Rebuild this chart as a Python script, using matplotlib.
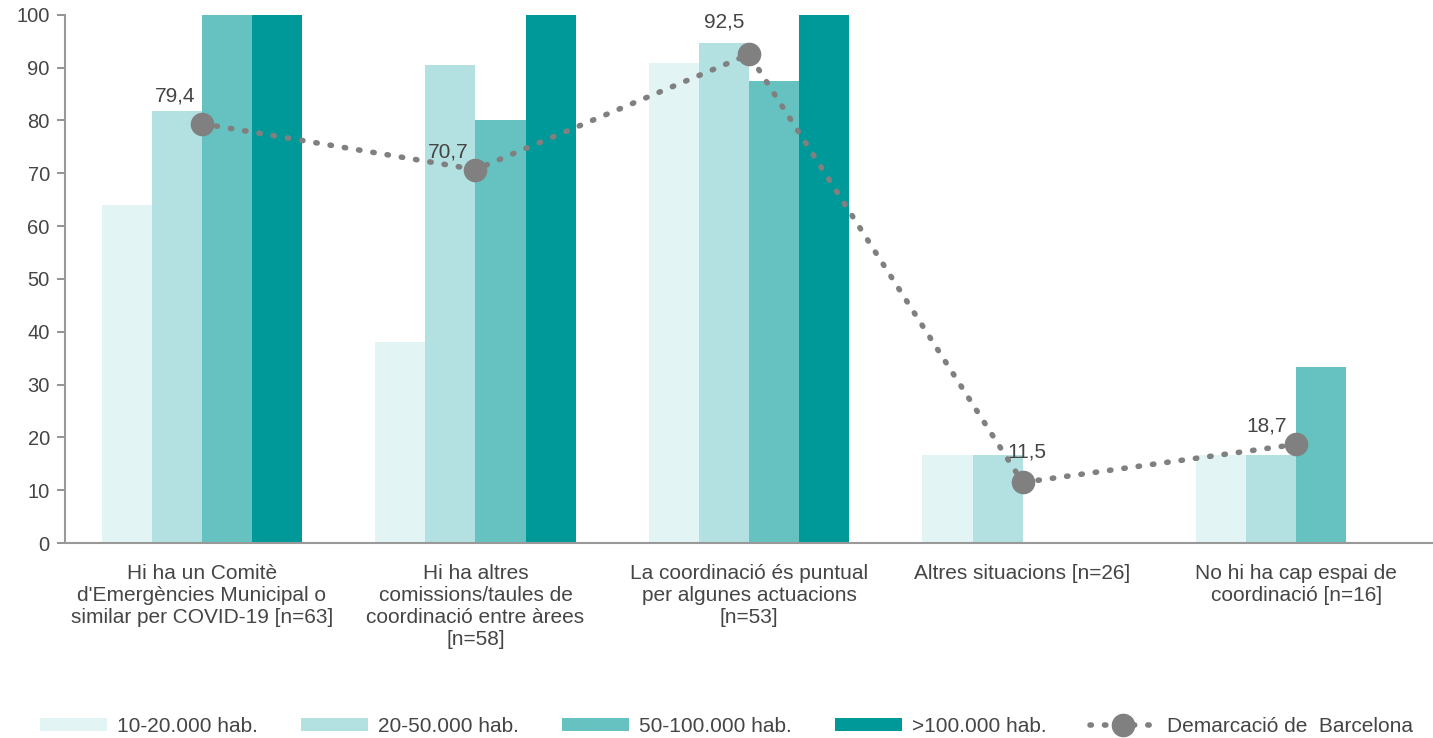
import matplotlib.pyplot as plt
import numpy as np

categories = [
    "Hi ha un Comitè\nd'Emergències Municipal o\nsimilar per COVID-19 [n=63]",
    "Hi ha altres\ncomissions/taules de\ncoordinació entre àrees\n[n=58]",
    "La coordinació és puntual\nper algunes actuacions\n[n=53]",
    "Altres situacions [n=26]",
    "No hi ha cap espai de\ncoordinació [n=16]",
]
series_names = ["10-20.000 hab.", "20-50.000 hab.", "50-100.000 hab.", ">100.000 hab."]
v_10_20 = [64.0, 38.1, 90.9, 16.7, 16.7]
v_20_50 = [81.8, 90.5, 94.6, 16.7, 16.7]
v_50_100 = [100.0, 80.0, 87.5, 0.0, 33.3]
v_100 = [100.0, 100.0, 100.0, 0.0, 0.0]
demarcacio = [79.4, 70.7, 92.5, 11.5, 18.7]
line_name = "Demarcació de  Barcelona"

colors = ["#E3F4F4", "#B3E0E0", "#66C2C0", "#009999"]
gray = "#808080"
text_color = "#454545"

plt.rcParams['font.family'] = ['Liberation Sans', 'DejaVu Sans']

fig = plt.figure(figsize=(14.33, 7.38), dpi=100)
ax = fig.add_axes([0.0454, 0.264, 0.9546, 0.716])

x = np.arange(len(categories))
width = 0.183
all_series = [v_10_20, v_20_50, v_50_100, v_100]
for i, (vals, name) in enumerate(zip(all_series, series_names)):
    ax.bar(x + (i - 1.5) * width, vals, width, color=colors[i], label=name)

ax.plot(x, demarcacio, color=gray, linestyle=(0, (0.25, 2.35)), linewidth=4.0,
        dash_capstyle='round', marker='o', markersize=16, label=line_name)

# label offsets in points (baseline)
offsets = [(-19, 16), (-19.5, 9), (-18, 19.5), (3, 18), (-21.5, 9.5)]
for xi, yi, off in zip(x, demarcacio, offsets):
    ax.annotate(f"{yi:.1f}".replace('.', ','), (xi, yi), xytext=off,
                textcoords='offset points', ha='center', va='baseline',
                fontsize=15, color=text_color)

ax.set_xlim(-0.5, len(categories) - 0.5)
ax.set_ylim(0, 100)
ax.set_yticks(range(0, 101, 10))
ax.set_xticks(x)
ax.set_xticklabels(categories, fontsize=15, color=text_color, linespacing=1.2)
ax.tick_params(axis='x', length=0, pad=15)
ax.tick_params(axis='y', length=6, width=1.2, color=gray, labelsize=14.5,
               labelcolor=text_color, pad=5)
for s in ['top', 'right']:
    ax.spines[s].set_visible(False)
for s in ['left', 'bottom']:
    ax.spines[s].set_color('#999999')
    ax.spines[s].set_linewidth(1.5)

handles, labels = ax.get_legend_handles_labels()
handles = handles[1:] + handles[:1]
labels = labels[1:] + labels[:1]
fig.legend(handles, labels, loc='center', bbox_to_anchor=(0.507, 0.016), ncol=5,
           frameon=False, fontsize=15, handlelength=3.2, handleheight=0.6,
           columnspacing=2.07, handletextpad=0.5, labelcolor=text_color)

fig.savefig("out.png", dpi=100)
